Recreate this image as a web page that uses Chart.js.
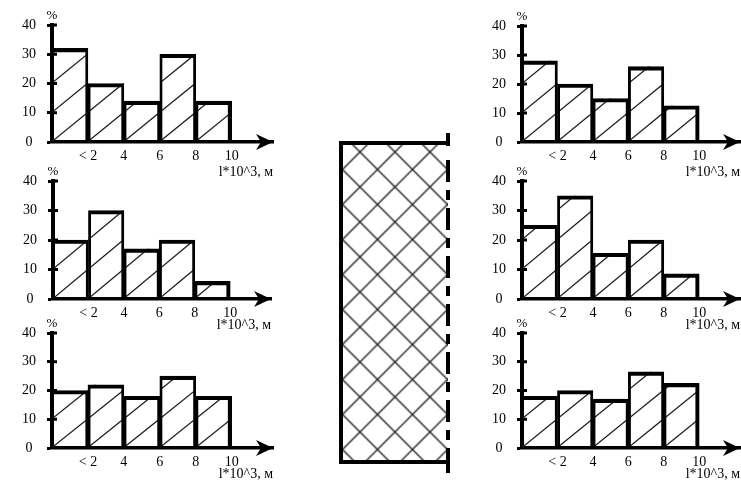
<!DOCTYPE html>
<html>
<head>
<meta charset="utf-8">
<script src="https://cdn.jsdelivr.net/npm/chart.js@4/dist/chart.umd.min.js"></script>
<style>
  body { margin: 0; background: #fff; width: 741px; height: 483px; position: relative; overflow: hidden; }
  .p { position: absolute; }
</style>
</head>
<body>
<svg class="p" width="741" height="483" style="left:0;top:0">
  <defs>
    <pattern id="xh" patternUnits="userSpaceOnUse" width="35" height="35" x="342.5" y="169.5">
      <path d="M0 0L35 35M35 0L0 35" stroke="#222" stroke-width="1.4" fill="none"/>
    </pattern>
  </defs>
  <rect x="341" y="143" width="107" height="319" fill="url(#xh)"/>
  <path d="M341 143H448M341 141V462H448" fill="none" stroke="#000" stroke-width="4"/>
  <path d="M448 133V146M448 450V473" fill="none" stroke="#000" stroke-width="4"/>
  <line x1="448" y1="160" x2="448" y2="450" stroke="#000" stroke-width="4" stroke-dasharray="22 8 10 8"/>
</svg>

<div class="p" id="w1"><canvas id="c1"></canvas></div>
<div class="p" id="w2"><canvas id="c2"></canvas></div>
<div class="p" id="w3"><canvas id="c3"></canvas></div>
<div class="p" id="w4"><canvas id="c4"></canvas></div>
<div class="p" id="w5"><canvas id="c5"></canvas></div>
<div class="p" id="w6"><canvas id="c6"></canvas></div>

<script>
// --- data ---
const categories = ['< 2', '4', '6', '8', '10'];
const tickValues = [2, 4, 6, 8, 10];   // upper edge of each 2*10^3 m bin
const yTicks = [0, 10, 20, 30, 40];
const axisTitle = 'l*10^3, м';

const topLeft  = [32, 20, 14, 30, 14];
const midLeft  = [20, 30, 17, 20, 6];
const lowLeft  = [20, 22, 18, 25, 18];
const topRight = [28, 20, 15, 26, 12.5];
const midRight = [25, 35, 15.5, 20, 8.5];
const lowRight = [18, 20, 17, 26.5, 22.5];

const font = { family: '"Liberation Serif", "Times New Roman", serif', size: 14 };

// panel boxes (left, top, w, h, y-axis x, 40-line y, 0-line y, arrow tip x) in page px
const panels = [
  { id: 'c1', wrap: 'w1', values: topLeft,  left: 0,   top: 0,   w: 290, h: 181, axisX: 52, y40: 25, y0: 142, tip: 273 },
  { id: 'c2', wrap: 'w2', values: midLeft,  left: 0,   top: 156, w: 290, h: 178, axisX: 53, y40: 25, y0: 143, tip: 271 },
  { id: 'c3', wrap: 'w3', values: lowLeft,  left: 0,   top: 308, w: 290, h: 175, axisX: 52, y40: 25, y0: 140, tip: 273 },
  { id: 'c4', wrap: 'w4', values: topRight, left: 478, top: 0,   w: 263, h: 181, axisX: 44, y40: 26, y0: 142, tip: 262 },
  { id: 'c5', wrap: 'w5', values: midRight, left: 478, top: 156, w: 263, h: 178, axisX: 44, y40: 25, y0: 143, tip: 262 },
  { id: 'c6', wrap: 'w6', values: lowRight, left: 478, top: 308, w: 263, h: 175, axisX: 44, y40: 25, y0: 140, tip: 262 }
];

// diagonal hatching inside each bar, one stroke per 10 % step
const hatch = {
  id: 'hatch',
  beforeDatasetsDraw(chart) {
    const ctx = chart.ctx, y = chart.scales.y;
    const step = y.getPixelForValue(0) - y.getPixelForValue(10);
    chart.getDatasetMeta(0).data.forEach(bar => {
      const p = bar.getProps(['x', 'y', 'base', 'width'], true);
      const l = p.x - p.width / 2, r = p.x + p.width / 2;
      ctx.save();
      ctx.beginPath();
      ctx.rect(l, p.y, r - l, p.base - p.y);
      ctx.clip();
      ctx.beginPath();
      ctx.strokeStyle = '#222';
      ctx.lineWidth = 1.3;
      for (let b = p.base; b > p.y - step; b -= step) {
        ctx.moveTo(l, b);
        ctx.lineTo(r, b - step);
      }
      ctx.stroke();
      ctx.restore();
    });
  }
};

// arrow on x axis, inner tick stubs, "%" mark
const axes = {
  id: 'axes',
  afterDraw(chart) {
    const { ctx, chartArea: a, scales: { y } } = chart;
    ctx.save();
    ctx.fillStyle = '#000';
    ctx.beginPath();
    ctx.moveTo(a.right, a.bottom);
    ctx.lineTo(a.right - 17, a.bottom - 8);
    ctx.lineTo(a.right - 12, a.bottom);
    ctx.lineTo(a.right - 17, a.bottom + 8);
    ctx.closePath();
    ctx.fill();
    ctx.strokeStyle = '#000';
    ctx.lineWidth = 3;
    ctx.beginPath();
    yTicks.slice(1).forEach(v => {
      const py = y.getPixelForValue(v);
      ctx.moveTo(a.left, py);
      ctx.lineTo(a.left + 5, py);
    });
    ctx.stroke();
    ctx.fillStyle = '#000';
    ctx.font = '13px "Liberation Serif", serif';
    ctx.textAlign = 'center';
    ctx.fillText('%', a.left, a.top - 6);
    ctx.restore();
  }
};

panels.forEach(p => {
  const wrap = document.getElementById(p.wrap);
  wrap.style.left = p.left + 'px';
  wrap.style.top = p.top + 'px';
  wrap.style.width = p.w + 'px';
  wrap.style.height = p.h + 'px';

  const last = p.values.length - 1;
  new Chart(document.getElementById(p.id), {
    type: 'bar',
    data: {
      datasets: [{
        data: p.values.map((v, i) => ({ x: tickValues[i] - 1, y: v })),
        backgroundColor: 'rgba(0,0,0,0)',
        borderColor: '#000',
        borderWidth: ctx => ({ top: 3.5, bottom: 0, left: ctx.dataIndex === 0 ? 0 : 2.2, right: ctx.dataIndex === last ? 3.5 : 2.2 }),
        borderSkipped: false,
        barPercentage: 1,
        categoryPercentage: 1
      }]
    },
    options: {
      responsive: true,
      maintainAspectRatio: false,
      animation: false,
      layout: { padding: { top: p.y40, right: p.w - p.tip, left: 0, bottom: 0 } },
      plugins: { legend: { display: false }, tooltip: { enabled: false } },
      scales: {
        x: {
          type: 'linear', min: 0, max: 12.3, offset: false,
          afterBuildTicks: s => { s.ticks = tickValues.map(v => ({ value: v })); },
          afterFit: s => { s.height = p.h - p.y0; },
          border: { color: '#000', width: 3.5 },
          grid: { display: false, drawTicks: false },
          ticks: { padding: 6, maxRotation: 0, autoSkip: false, color: '#000', font, callback: (v, i) => categories[i] },
          title: { display: true, text: axisTitle, align: 'end', color: '#000', font, padding: 0 }
        },
        y: {
          min: 0, max: 40,
          afterBuildTicks: s => { s.ticks = yTicks.map(v => ({ value: v })); },
          afterFit: s => { s.width = p.axisX; },
          border: { color: '#000', width: 4 },
          grid: { drawOnChartArea: false, tickLength: 5, tickWidth: 3, tickColor: '#000' },
          ticks: { crossAlign: 'center', padding: 11, color: '#000', font }
        }
      }
    },
    plugins: [hatch, axes]
  });
});
</script>
</body>
</html>
